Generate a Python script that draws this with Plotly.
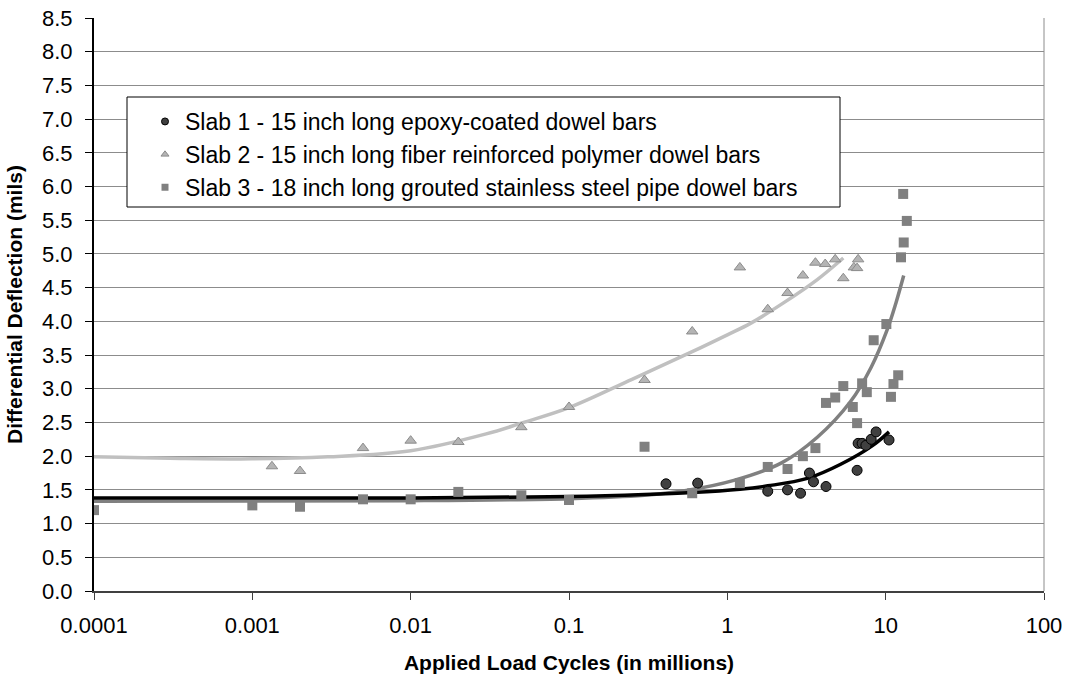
import plotly.graph_objects as go

# ---- data ----
slab1_x = [0.41, 0.65, 1.8, 2.4, 2.9, 3.3, 3.5, 4.2, 6.6, 6.7, 7.1, 7.5, 8.1, 8.7, 10.5]
slab1_y = [1.59, 1.60, 1.48, 1.50, 1.45, 1.75, 1.62, 1.55, 1.79, 2.19, 2.19, 2.16, 2.25, 2.36, 2.24]

slab2_x = [0.00133, 0.002, 0.005, 0.01, 0.02, 0.05, 0.1, 0.3, 0.6, 1.2, 1.8, 2.4, 3.0, 3.6,
           4.15, 4.8, 5.4, 6.3, 6.6, 6.7]
slab2_y = [1.85, 1.78, 2.12, 2.23, 2.21, 2.43, 2.73, 3.13, 3.85, 4.80, 4.18, 4.42, 4.68, 4.87,
           4.85, 4.92, 4.64, 4.80, 4.79, 4.92]

slab3_x = [0.0001, 0.001, 0.002, 0.005, 0.01, 0.02, 0.05, 0.1, 0.3, 0.6, 1.2, 1.8, 2.4, 3.0,
           3.6, 4.2, 4.8, 5.4, 6.2, 6.6, 7.1, 7.6, 8.4, 10.1, 10.8, 11.2, 12.0, 12.5, 12.9,
           13.0, 13.6]
slab3_y = [1.20, 1.27, 1.25, 1.36, 1.36, 1.47, 1.42, 1.35, 2.14, 1.45, 1.60, 1.84, 1.81, 2.00,
           2.12, 2.79, 2.87, 3.04, 2.73, 2.49, 3.08, 2.95, 3.72, 3.96, 2.88, 3.07, 3.20, 4.95,
           5.89, 5.17, 5.49]

# trend lines
trend1_x = [0.0001, 0.01, 0.1, 0.3, 0.6, 1.2, 1.8, 3.2, 5.2, 8.3, 10.5]
trend1_y = [1.38, 1.38, 1.40, 1.43, 1.46, 1.51, 1.56, 1.67, 1.88, 2.16, 2.36]

trend2_x = [0.0001, 0.0003, 0.001, 0.003, 0.01, 0.03, 0.05, 0.1, 0.25, 0.6, 1.0, 1.4, 2.25, 3.7, 5.4]
trend2_y = [1.99, 1.97, 1.96, 1.99, 2.08, 2.33, 2.49, 2.72, 3.14, 3.55, 3.80, 3.97, 4.27, 4.62, 4.94]

trend3_x = [0.0001, 0.01, 0.1, 0.3, 0.55, 1.1, 2.2, 3.7, 6.0, 8.1, 10.2, 11.6, 13.0]
trend3_y = [1.33, 1.34, 1.37, 1.42, 1.49, 1.64, 1.90, 2.28, 2.81, 3.32, 3.87, 4.27, 4.68]

x_tickvals = [0.0001, 0.001, 0.01, 0.1, 1, 10, 100]
x_ticktext = ["0.0001", "0.001", "0.01", "0.1", "1", "10", "100"]

names = ["Slab 1 - 15 inch long epoxy-coated dowel bars",
         "Slab 2 - 15 inch long fiber reinforced polymer dowel bars",
         "Slab 3 - 18 inch long grouted stainless steel pipe dowel bars"]

FONT = "Liberation Sans, Arial, sans-serif"
C1_FILL, C1_LINE = "#404040", "#000000"
C2_FILL, C2_LINE = "#b4b4b4", "#8c8c8c"
C3_FILL = "#808080"

fig = go.Figure()

# trend lines first (drawn under markers)
fig.add_trace(go.Scatter(x=trend2_x, y=trend2_y, mode="lines", line=dict(color="#c0c0c0", width=3.5, shape="spline"),
                         showlegend=False, hoverinfo="skip"))
fig.add_trace(go.Scatter(x=trend3_x, y=trend3_y, mode="lines", line=dict(color="#808080", width=3.5, shape="spline"),
                         showlegend=False, hoverinfo="skip"))
fig.add_trace(go.Scatter(x=trend1_x, y=trend1_y, mode="lines", line=dict(color="#000000", width=3.5, shape="spline"),
                         showlegend=False, hoverinfo="skip"))

fig.add_trace(go.Scatter(x=slab1_x, y=slab1_y, mode="markers", name=names[0], legendgroup="s1", showlegend=False,
                         marker=dict(symbol="circle", size=10, color=C1_FILL, line=dict(color=C1_LINE, width=1))))
fig.add_trace(go.Scatter(x=slab2_x, y=slab2_y, mode="markers", name=names[1], legendgroup="s2", showlegend=False,
                         marker=dict(symbol="triangle-up", size=10, color=C2_FILL, line=dict(color=C2_LINE, width=1))))
fig.add_trace(go.Scatter(x=slab3_x, y=slab3_y, mode="markers", name=names[2], legendgroup="s3", showlegend=False,
                         marker=dict(symbol="square", size=10, color=C3_FILL, line=dict(color=C3_FILL, width=0))))

# legend entries (smaller symbols, as in the reference legend)
fig.add_trace(go.Scatter(x=[None], y=[None], mode="markers", name=names[0], legendgroup="s1",
                         marker=dict(symbol="circle", size=7, color=C1_FILL, line=dict(color=C1_LINE, width=1))))
fig.add_trace(go.Scatter(x=[None], y=[None], mode="markers", name=names[1], legendgroup="s2",
                         marker=dict(symbol="triangle-up", size=7, color=C2_FILL, line=dict(color=C2_LINE, width=1))))
fig.add_trace(go.Scatter(x=[None], y=[None], mode="markers", name=names[2], legendgroup="s3",
                         marker=dict(symbol="square", size=7, color=C3_FILL, line=dict(color=C3_FILL, width=0))))

# plot area in px: x 94..1044, y 18..591
PL, PR, PT, PB = 94, 1044, 18, 591
def px_x(p):
    return (p - PL) / (PR - PL)
def px_y(p):
    return (PB - p) / (PB - PT)

fig.update_layout(
    width=1068, height=682,
    margin=dict(l=PL, r=1068 - PR, t=PT, b=682 - PB, autoexpand=False),
    paper_bgcolor="white", plot_bgcolor="white",
    font=dict(family=FONT, size=22, color="black"),
    legend=dict(x=px_x(145), y=px_y(100), xanchor="left", yanchor="top",
                borderwidth=0, bgcolor="rgba(0,0,0,0)",
                font=dict(family=FONT, size=23, color="black"),
                itemsizing="trace", tracegroupgap=0),
    xaxis=dict(type="log", range=[-4, 2], tickvals=x_tickvals, ticktext=x_ticktext,
               showgrid=False, showline=True, linecolor="#404040", linewidth=2,
               ticks="outside", ticklen=7, tickcolor="#404040", ticklabelstandoff=7,
               tickfont=dict(size=22), automargin=False,
               title=dict(text="<b>Applied Load Cycles (in millions)</b>", font=dict(family=FONT, size=21), standoff=18),
               zeroline=False),
    yaxis=dict(range=[0, 8.5], dtick=0.5, tickformat=".1f",
               showgrid=True, gridcolor="#8c8c8c", gridwidth=1,
               showline=True, linecolor="black", linewidth=2,
               ticks="outside", ticklen=7, tickcolor="black", ticklabelstandoff=8,
               tickfont=dict(size=22), automargin=False,
               title=dict(text="<b>Differential Deflection (mils)</b>", font=dict(family=FONT, size=21), standoff=14),
               zeroline=False),
    shapes=[
        dict(type="line", xref="paper", yref="paper", x0=1, x1=1, y0=0, y1=1,
             line=dict(color="#8c8c8c", width=1)),
        # legend frame
        dict(type="rect", xref="paper", yref="paper", layer="above",
             x0=px_x(127), x1=px_x(840), y0=px_y(207), y1=px_y(97),
             line=dict(color="black", width=1), fillcolor="white"),
    ],
)

fig.write_html("out.html", config={"displayModeBar": False},
               post_script="document.body.style.margin='0px';document.body.style.overflow='hidden';")
